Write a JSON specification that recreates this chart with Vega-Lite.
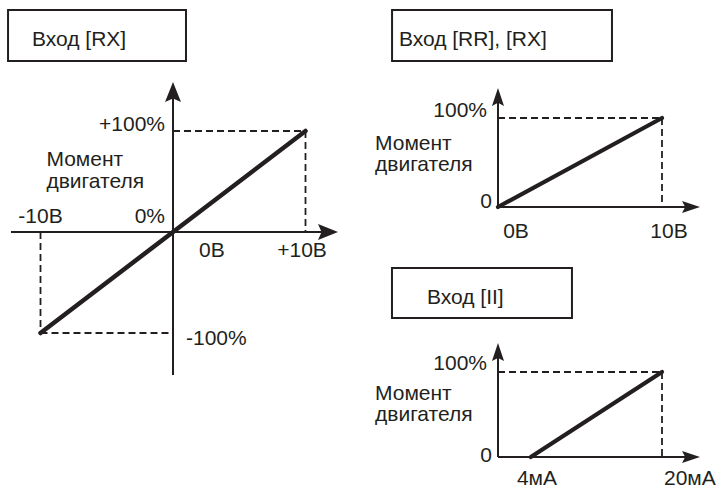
{
  "$schema": "https://vega.github.io/schema/vega-lite/v6.json",
  "width": 716,
  "height": 488,
  "autosize": {"type": "none"},
  "padding": 0,
  "background": "white",
  "config": {
    "view": {"stroke": null},
    "text": {"font": "Liberation Sans", "fontSize": 21, "color": "#231f20", "baseline": "alphabetic", "lineHeight": 21.5}
  },
  "datasets": {
    "p1": [
      {"kind": "box", "x": -12.45, "y": 219.8, "x2": 0.98, "y2": 169.3},
      {"kind": "dash", "x": 0, "y": 100, "x2": 10, "y2": 100},
      {"kind": "dash", "x": 10, "y": 100, "x2": 10, "y2": 0},
      {"kind": "dash", "x": -10, "y": -100, "x2": 0, "y2": -100},
      {"kind": "dash", "x": -10, "y": 0, "x2": -10, "y2": -100},
      {"kind": "axis", "x": -12.23, "y": 0, "x2": 11.7, "y2": 0},
      {"kind": "axis", "x": 0, "y": -141.6, "x2": 0, "y2": 138.6},
      {"kind": "curve", "i": 0, "x": -10, "y": -100},
      {"kind": "curve", "i": 1, "x": 10, "y": 100},
      {"kind": "arrow", "dir": "right", "x": 11.7, "y": 0},
      {"kind": "arrow", "dir": "up", "x": 0, "y": 138.6},
      {"kind": "text", "anchor": "left", "label": "Вход [RX]", "x": -10.64, "y": 184.2},
      {"kind": "text", "anchor": "right", "label": "+100%", "x": -0.6, "y": 100},
      {"kind": "text", "anchor": "left", "label": ["Момент", "двигателя"], "x": -9.55, "y": 65.3},
      {"kind": "text", "anchor": "center", "label": "-10В", "x": -10, "y": 8.9},
      {"kind": "text", "anchor": "right", "label": "0%", "x": -0.6, "y": 8.9},
      {"kind": "text", "anchor": "center", "label": "0В", "x": 2.94, "y": -24.75},
      {"kind": "text", "anchor": "center", "label": "+10В", "x": 9.74, "y": -24.75},
      {"kind": "text", "anchor": "left", "label": "-100%", "x": 0.98, "y": -111.9}
    ],
    "p2": [
      {"kind": "box", "x": -6.46, "y": 221.3, "x2": 6.95, "y2": 164.0},
      {"kind": "dash", "x": 0, "y": 100, "x2": 10, "y2": 100},
      {"kind": "dash", "x": 10, "y": 100, "x2": 10, "y2": 0},
      {"kind": "axis", "x": 0, "y": 0, "x2": 11.77, "y2": 0},
      {"kind": "axis", "x": 0, "y": 0, "x2": 0, "y2": 123.6},
      {"kind": "curve", "i": 0, "x": 0, "y": 0},
      {"kind": "curve", "i": 1, "x": 10, "y": 100},
      {"kind": "arrow", "dir": "right", "x": 11.77, "y": 0},
      {"kind": "arrow", "dir": "up", "x": 0, "y": 123.6},
      {"kind": "text", "anchor": "left", "label": "Вход [RR], [RX]", "x": -6.04, "y": 180.9},
      {"kind": "text", "anchor": "right", "label": "100%", "x": -0.67, "y": 101.1},
      {"kind": "text", "anchor": "left", "label": ["Момент", "двигателя"], "x": -7.5, "y": 64.5},
      {"kind": "text", "anchor": "right", "label": "0", "x": -0.37, "y": -1.1},
      {"kind": "text", "anchor": "center", "label": "0В", "x": 1.1, "y": -34.8},
      {"kind": "text", "anchor": "center", "label": "10В", "x": 10.43, "y": -34.8}
    ],
    "p3": [
      {"kind": "box", "x": -12.93, "y": 222.4, "x2": 9.02, "y2": 163.5},
      {"kind": "dash", "x": 0, "y": 100, "x2": 20, "y2": 100},
      {"kind": "dash", "x": 20, "y": 100, "x2": 20, "y2": 0},
      {"kind": "axis", "x": 0, "y": 0, "x2": 23.54, "y2": 0},
      {"kind": "axis", "x": 0, "y": 0, "x2": 0, "y2": 123.5},
      {"kind": "curve", "i": 0, "x": 4, "y": 0},
      {"kind": "curve", "i": 1, "x": 20, "y": 100},
      {"kind": "arrow", "dir": "right", "x": 23.54, "y": 0},
      {"kind": "arrow", "dir": "up", "x": 0, "y": 123.5},
      {"kind": "text", "anchor": "left", "label": "Вход [II]", "x": -8.66, "y": 180},
      {"kind": "text", "anchor": "right", "label": "100%", "x": -1.34, "y": 102.4},
      {"kind": "text", "anchor": "left", "label": ["Момент", "двигателя"], "x": -15.0, "y": 67.1},
      {"kind": "text", "anchor": "right", "label": "0", "x": -0.73, "y": -5.9},
      {"kind": "text", "anchor": "center", "label": "4мА", "x": 4.75, "y": -33.2},
      {"kind": "text", "anchor": "center", "label": "20мА", "x": 23.4, "y": -33.2}
    ]
  },
  "layer": [
    {
      "data": {"name": "p1"},
      "encoding": {
        "x": {"field": "x", "type": "quantitative", "scale": {"domain": [-13.0566, 40.9811], "nice": false, "zero": false}, "axis": null},
        "y": {"field": "y", "type": "quantitative", "scale": {"domain": [-253.47, 229.70], "nice": false, "zero": false}, "axis": null}
      },
      "layer": [
        {"transform": [{"filter": "datum.kind === 'box'"}], "mark": {"type": "rect", "fill": "white", "stroke": "#231f20", "strokeWidth": 2}, "encoding": {"x2": {"field": "x2"}, "y2": {"field": "y2"}}},
        {"transform": [{"filter": "datum.kind === 'dash'"}], "mark": {"type": "rule", "color": "#231f20", "strokeWidth": 1.8, "strokeDash": [7, 4]}, "encoding": {"x2": {"field": "x2"}, "y2": {"field": "y2"}}},
        {"transform": [{"filter": "datum.kind === 'axis'"}], "mark": {"type": "rule", "color": "#231f20", "strokeWidth": 2}, "encoding": {"x2": {"field": "x2"}, "y2": {"field": "y2"}}},
        {"transform": [{"filter": "datum.kind === 'curve'"}], "mark": {"type": "line", "color": "#231f20", "strokeWidth": 4.5, "strokeCap": "round"}, "encoding": {"order": {"field": "i", "type": "quantitative"}}},
        {"transform": [{"filter": "datum.kind === 'arrow'"}], "mark": {"type": "point", "filled": true, "color": "#231f20", "opacity": 1, "size": 400, "strokeWidth": 0},
          "encoding": {"shape": {"field": "dir", "type": "nominal", "scale": {"domain": ["up", "right"], "range": ["M0,-1L0.8,1L0,0.65L-0.8,1Z", "M1,0L-1,0.8L-0.65,0L-1,-0.8Z"]}, "legend": null}}},
        {"transform": [{"filter": "datum.kind === 'text' && datum.anchor === 'left'"}], "mark": {"type": "text", "align": "left"}, "encoding": {"text": {"field": "label"}}},
        {"transform": [{"filter": "datum.kind === 'text' && datum.anchor === 'right'"}], "mark": {"type": "text", "align": "right"}, "encoding": {"text": {"field": "label"}}},
        {"transform": [{"filter": "datum.kind === 'text' && datum.anchor === 'center'"}], "mark": {"type": "text", "align": "center"}, "encoding": {"text": {"field": "label"}}}
      ]
    },
    {
      "data": {"name": "p2"},
      "encoding": {
        "x": {"field": "x", "type": "quantitative", "scale": {"domain": [-30.366, 13.293], "nice": false, "zero": false}, "axis": null},
        "y": {"field": "y", "type": "quantitative", "scale": {"domain": [-315.73, 232.58], "nice": false, "zero": false}, "axis": null}
      },
      "layer": [
        {"transform": [{"filter": "datum.kind === 'box'"}], "mark": {"type": "rect", "fill": "white", "stroke": "#231f20", "strokeWidth": 2}, "encoding": {"x2": {"field": "x2"}, "y2": {"field": "y2"}}},
        {"transform": [{"filter": "datum.kind === 'dash'"}], "mark": {"type": "rule", "color": "#231f20", "strokeWidth": 1.8, "strokeDash": [7, 4]}, "encoding": {"x2": {"field": "x2"}, "y2": {"field": "y2"}}},
        {"transform": [{"filter": "datum.kind === 'axis'"}], "mark": {"type": "rule", "color": "#231f20", "strokeWidth": 2}, "encoding": {"x2": {"field": "x2"}, "y2": {"field": "y2"}}},
        {"transform": [{"filter": "datum.kind === 'curve'"}], "mark": {"type": "line", "color": "#231f20", "strokeWidth": 4.2, "strokeCap": "round"}, "encoding": {"order": {"field": "i", "type": "quantitative"}}},
        {"transform": [{"filter": "datum.kind === 'arrow'"}], "mark": {"type": "point", "filled": true, "color": "#231f20", "opacity": 1, "size": 324, "strokeWidth": 0},
          "encoding": {"shape": {"field": "dir", "type": "nominal", "scale": {"domain": ["up", "right"], "range": ["M0,-1L0.67,1L0,0.65L-0.67,1Z", "M1,0L-1,0.67L-0.65,0L-1,-0.67Z"]}, "legend": null}}},
        {"transform": [{"filter": "datum.kind === 'text' && datum.anchor === 'left'"}], "mark": {"type": "text", "align": "left"}, "encoding": {"text": {"field": "label"}}},
        {"transform": [{"filter": "datum.kind === 'text' && datum.anchor === 'right'"}], "mark": {"type": "text", "align": "right"}, "encoding": {"text": {"field": "label"}}},
        {"transform": [{"filter": "datum.kind === 'text' && datum.anchor === 'center'"}], "mark": {"type": "text", "align": "center"}, "encoding": {"text": {"field": "label"}}}
      ]
    },
    {
      "data": {"name": "p3"},
      "encoding": {
        "x": {"field": "x", "type": "quantitative", "scale": {"domain": [-60.732, 26.585], "nice": false, "zero": false}, "axis": null},
        "y": {"field": "y", "type": "quantitative", "scale": {"domain": [-36.47, 537.65], "nice": false, "zero": false}, "axis": null}
      },
      "layer": [
        {"transform": [{"filter": "datum.kind === 'box'"}], "mark": {"type": "rect", "fill": "white", "stroke": "#231f20", "strokeWidth": 2}, "encoding": {"x2": {"field": "x2"}, "y2": {"field": "y2"}}},
        {"transform": [{"filter": "datum.kind === 'dash'"}], "mark": {"type": "rule", "color": "#231f20", "strokeWidth": 1.8, "strokeDash": [7, 4]}, "encoding": {"x2": {"field": "x2"}, "y2": {"field": "y2"}}},
        {"transform": [{"filter": "datum.kind === 'axis'"}], "mark": {"type": "rule", "color": "#231f20", "strokeWidth": 2}, "encoding": {"x2": {"field": "x2"}, "y2": {"field": "y2"}}},
        {"transform": [{"filter": "datum.kind === 'curve'"}], "mark": {"type": "line", "color": "#231f20", "strokeWidth": 4.2, "strokeCap": "round"}, "encoding": {"order": {"field": "i", "type": "quantitative"}}},
        {"transform": [{"filter": "datum.kind === 'arrow'"}], "mark": {"type": "point", "filled": true, "color": "#231f20", "opacity": 1, "size": 324, "strokeWidth": 0},
          "encoding": {"shape": {"field": "dir", "type": "nominal", "scale": {"domain": ["up", "right"], "range": ["M0,-1L0.67,1L0,0.65L-0.67,1Z", "M1,0L-1,0.67L-0.65,0L-1,-0.67Z"]}, "legend": null}}},
        {"transform": [{"filter": "datum.kind === 'text' && datum.anchor === 'left'"}], "mark": {"type": "text", "align": "left"}, "encoding": {"text": {"field": "label"}}},
        {"transform": [{"filter": "datum.kind === 'text' && datum.anchor === 'right'"}], "mark": {"type": "text", "align": "right"}, "encoding": {"text": {"field": "label"}}},
        {"transform": [{"filter": "datum.kind === 'text' && datum.anchor === 'center'"}], "mark": {"type": "text", "align": "center"}, "encoding": {"text": {"field": "label"}}}
      ]
    }
  ],
  "resolve": {"scale": {"x": "independent", "y": "independent", "shape": "independent"}}
}
